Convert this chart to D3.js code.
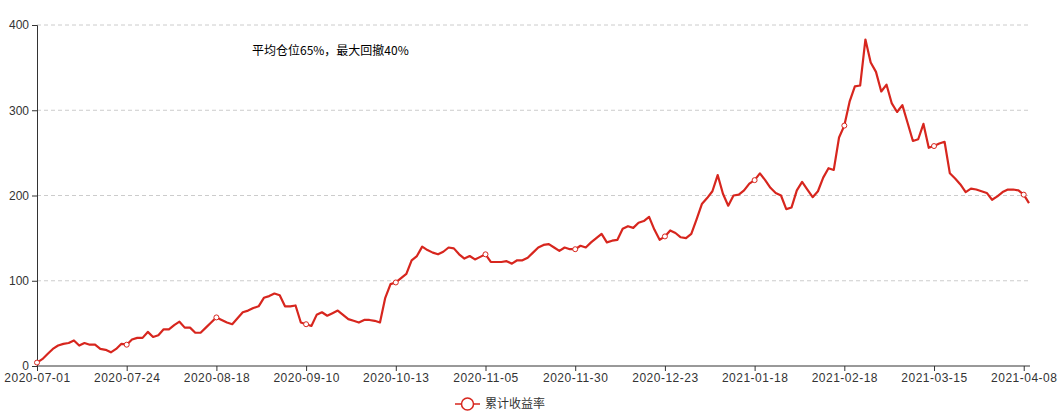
<!DOCTYPE html>
<html><head><meta charset="utf-8">
<script src="https://cdn.jsdelivr.net/npm/d3@7"></script>
<style>body{margin:0;background:#fff}svg{font-family:"Noto Sans CJK SC","Noto Sans",sans-serif}</style>
</head><body>
<svg id="c" width="1061" height="420"></svg>
<script>
// cumulative return (%) per trading day
var values = [4,8,14,20,24,26,27,30,24,27,25,25,20,19,16,20,26,25,
  31,33,33,40,34,36,43,43,48,52,45,45,39,39,45,51,57,
  54,51,49,56,63,65,68,70,80,82,85,83,70,70,71,51,49,
  47,60,63,59,62,65,60,55,53,51,54,54,53,51,80,96,98,
  103,108,124,129,140,136,133,131,134,139,138,131,126,129,125,128,131,
  122,122,122,123,120,124,124,127,133,139,142,143,139,135,139,137,137,
  141,139,145,150,155,145,147,148,161,164,162,168,170,175,160,148,152,
  159,156,151,150,155,172,190,197,205,224,202,188,200,201,206,214,218,
  226,218,209,203,200,184,186,206,216,207,198,205,221,232,230,268,282,
  310,328,329,383,356,345,322,330,308,298,306,285,264,266,284,256,258,
  261,263,226,220,213,204,208,207,205,203,195,199,204,207,207,206,201,191];
var tickLabels = ["2020-07-01","2020-07-24","2020-08-18","2020-09-10","2020-10-13","2020-11-05",
  "2020-11-30","2020-12-23","2021-01-18","2021-02-18","2021-03-15","2021-04-08"];
var tickStep = 17;
var yTicks = [0,100,200,300,400];
var seriesName = "累计收益率";
var note = "平均仓位65%，最大回撤40%";

var red = "#d7261e";
var svg = d3.select("#c");
var x = d3.scaleLinear().domain([0, values.length - 1]).range([37, 1029]);
var y = d3.scaleLinear().domain([0, 400]).range([366, 25]);

// grid
svg.append("g").selectAll("line").data(yTicks.slice(1)).join("line")
  .attr("x1", 37).attr("x2", 1030).attr("y1", y).attr("y2", y)
  .attr("stroke", "#ccc").attr("stroke-dasharray", "4,3");

var ya = svg.append("g").attr("transform", "translate(37,0)")
  .call(d3.axisLeft(y).tickValues(yTicks).tickSize(5).tickPadding(3));
ya.selectAll("text").attr("font-size", 12).attr("fill", "#333");
ya.selectAll("line,path").attr("stroke", "#333");

var xa = svg.append("g").attr("transform", "translate(0,366)")
  .call(d3.axisBottom(x).tickValues(tickLabels.map(function(d, i){ return i * tickStep; }))
    .tickFormat(function(d, i){ return tickLabels[i]; }).tickSize(5).tickPadding(2).tickSizeOuter(0));
xa.selectAll("text").attr("font-size", 12).attr("fill", "#333").attr("letter-spacing", "0.5px");
xa.selectAll("line,path").attr("stroke", "#333");
xa.select("path").attr("d", "M37,0H1030");

svg.append("path").datum(values)
  .attr("d", d3.line().x(function(d, i){ return x(i); }).y(y))
  .attr("fill", "none").attr("stroke", red).attr("stroke-width", 2.2).attr("stroke-linejoin", "round");

svg.append("g").selectAll("circle")
  .data(values.map(function(v, i){ return [i, v]; }).filter(function(d){ return d[0] % tickStep === 0; }))
  .join("circle").attr("cx", function(d){ return x(d[0]); }).attr("cy", function(d){ return y(d[1]); })
  .attr("r", 2.5).attr("fill", "#fff").attr("stroke", red).attr("stroke-width", 1);

svg.append("text").attr("x", 252).attr("y", 55).attr("font-size", 12).attr("fill", "#000").text(note);

var lg = svg.append("g").attr("transform", "translate(455,404)");
lg.append("line").attr("x1", 0).attr("x2", 25).attr("stroke", red).attr("stroke-width", 1.5);
lg.append("circle").attr("cx", 12.5).attr("r", 6).attr("fill", "#fff").attr("stroke", red).attr("stroke-width", 1.5);
lg.append("text").attr("x", 30).attr("y", 4).attr("font-size", 12).attr("fill", "#333").text(seriesName);
</script>
</body></html>
